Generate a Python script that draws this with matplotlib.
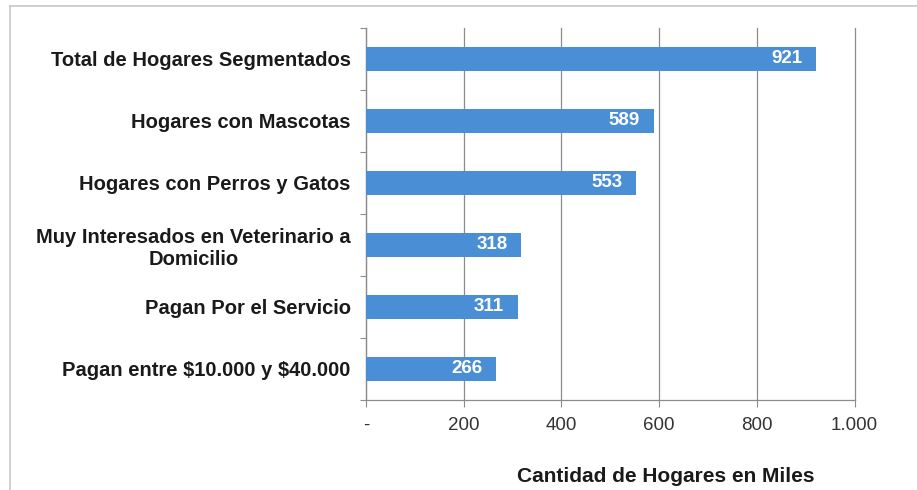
import matplotlib
matplotlib.use("Agg")
import matplotlib.pyplot as plt
from matplotlib.lines import Line2D

plt.rcParams['font.family'] = ['Liberation Sans', 'DejaVu Sans']

categories = [
    "Total de Hogares Segmentados",
    "Hogares con Mascotas",
    "Hogares con Perros y Gatos",
    "Muy Interesados en Veterinario a\nDomicilio",
    "Pagan Por el Servicio",
    r"Pagan entre \$10.000 y \$40.000",
]
values = [921, 589, 553, 318, 311, 266]
x_ticks = [0, 200, 400, 600, 800, 1000]
x_tick_labels = ["-", "200", "400", "600", "800", "1.000"]

bar_color = "#4A8FD6"
grid_color = "#8C8C8C"

fig = plt.figure(figsize=(9.17, 4.90), dpi=100)
ax = fig.add_axes([0.399, 0.1837, 0.533, 0.7592])

positions = list(range(len(categories)))
ax.barh(positions, values, height=0.40, color=bar_color, zorder=3)

for pos, val in zip(positions, values):
    ax.text(val - 28, pos, f"{val}", ha="right", va="center",
            color="white", fontsize=13.5, fontweight="bold", zorder=4)

ax.set_ylim(len(categories) - 0.5, -0.5)
ax.set_xlim(0, 1000)
ax.set_xticks(x_ticks)
ax.set_xticklabels(x_tick_labels, fontsize=13.5, color="#333333")
ax.set_yticks(positions)
ax.set_yticklabels(categories, fontsize=14.5, fontweight="bold", color="#1a1a1a",
                   linespacing=1.2)
for lbl in ax.get_yticklabels():
    lbl.set_multialignment("center")
ax.tick_params(axis="y", length=0, pad=11)
ax.set_yticks([p - 0.5 for p in positions] + [len(categories) - 0.5], minor=True)
ax.tick_params(axis="y", which="minor", length=4, color=grid_color, width=0.8)
ax.tick_params(axis="x", length=5, color=grid_color, width=0.8, pad=7)

ax.grid(axis="x", color=grid_color, linewidth=0.9, zorder=0)
for gl in ax.get_xgridlines():
    gl.set_clip_on(False)
for side in ("top", "right"):
    ax.spines[side].set_visible(False)
for side in ("left", "bottom"):
    ax.spines[side].set_color(grid_color)
    ax.spines[side].set_linewidth(0.9)

ax.set_xlabel("Cantidad de Hogares en Miles", fontsize=15, fontweight="bold",
              color="#1a1a1a")
ax.xaxis.set_label_coords(0.613, -0.18)

# light frame along the top and left edges
fig.add_artist(Line2D([10 / 917, 1.0], [1 - 6 / 490, 1 - 6 / 490],
                      transform=fig.transFigure, color="#C8C8C8", linewidth=1.2))
fig.add_artist(Line2D([10 / 917, 10 / 917], [0.0, 1 - 6 / 490],
                      transform=fig.transFigure, color="#C8C8C8", linewidth=1.2))

fig.savefig("out.png", dpi=100)
